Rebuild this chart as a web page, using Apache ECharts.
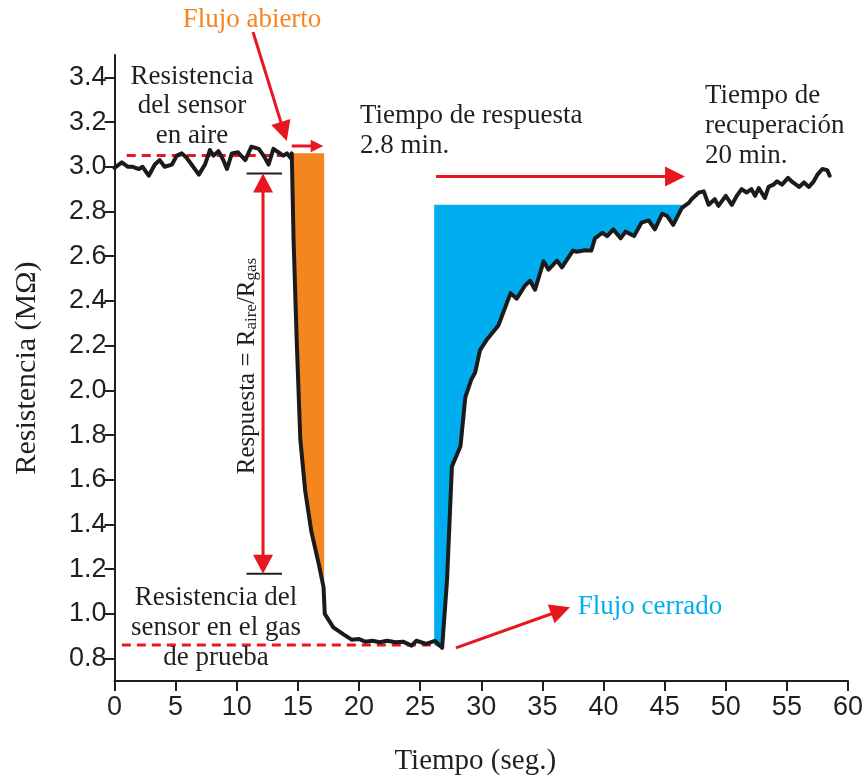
<!DOCTYPE html>
<html>
<head>
<meta charset="utf-8">
<script src="https://cdn.jsdelivr.net/npm/echarts@6.0.0/dist/echarts.min.js"></script>
<style>
  html, body { margin: 0; padding: 0; background: #ffffff; }
  #chart { width: 865px; height: 776px; }
</style>
</head>
<body>
<div id="chart"></div>
<script>
// Sensor resistance over time (MΩ vs seconds)
var timeSec = [
  0, 0.6, 1.1, 1.5, 2.0, 2.3, 2.8, 3.3, 3.7, 4.1,
  4.7, 5.1, 5.5, 5.9, 6.3, 6.9, 7.4, 7.8, 8.1, 8.5,
  8.9, 9.2, 9.6, 10.1, 10.7, 11.2, 11.8, 12.2, 12.6, 13.0,
  13.4, 13.8, 14.1, 14.4,
  14.5, 14.65, 14.9, 15.2, 15.6, 16.1, 16.7, 17.1, 17.2, 17.9, 18.7, 19.4,
  20.0, 20.5, 21.1, 21.7, 22.3, 23.0, 23.6, 24.3, 24.7, 25.5, 26.2, 26.8,
  27.2, 27.6, 28.3, 28.7, 29.2, 29.5, 29.9, 30.5, 31.4, 32.4,
  32.9, 33.6, 34.0, 34.4, 35.1, 35.5, 36.2, 36.6, 37.5, 37.8,
  38.5, 39.0, 39.3, 39.9, 40.3, 40.8, 41.4, 41.8, 42.5, 43.1,
  43.7, 44.2, 44.8, 45.2, 45.7, 46.4,
  47.0, 47.2, 47.8, 48.2, 48.6, 49.1, 49.4, 50.0, 50.5, 50.9,
  51.3, 51.7, 52.1, 52.4, 52.7, 53.2, 53.5, 53.9, 54.2, 54.6,
  55.1, 55.5, 56.0, 56.4, 56.8, 57.2, 57.5, 57.9, 58.3, 58.5
];
var resistance = [
  2.995, 3.02, 3.0, 3.0, 2.99, 3.0, 2.96, 3.01, 3.03, 3.0,
  3.01, 3.05, 3.06, 3.04, 3.01, 2.965, 3.01, 3.075, 3.05, 3.07,
  3.03, 2.99, 3.06, 3.065, 3.03, 3.09, 3.08, 3.05, 3.01, 3.08,
  3.065, 3.05, 3.06, 3.04,
  3.06, 2.67, 2.23, 1.78, 1.55, 1.37, 1.225, 1.12, 1.0, 0.94, 0.91, 0.885,
  0.888, 0.876, 0.88, 0.873, 0.88, 0.873, 0.876, 0.858, 0.88, 0.866, 0.88, 0.848,
  1.15, 1.66, 1.75, 1.97, 2.05, 2.08, 2.18, 2.23, 2.29, 2.435,
  2.41, 2.47, 2.49, 2.45, 2.577, 2.54, 2.58, 2.55, 2.625, 2.62,
  2.627, 2.625, 2.68, 2.705, 2.69, 2.72, 2.68, 2.71, 2.69, 2.75,
  2.76, 2.72, 2.79, 2.78, 2.74, 2.815,
  2.84, 2.855, 2.885, 2.89, 2.83, 2.855, 2.825, 2.87, 2.83, 2.87,
  2.9, 2.885, 2.9, 2.87, 2.905, 2.86, 2.91, 2.92, 2.935, 2.92,
  2.95, 2.93, 2.91, 2.93, 2.91, 2.935, 2.965, 2.99, 2.985, 2.96
];

// Axis ticks
var xTicks = [0, 5, 10, 15, 20, 25, 30, 35, 40, 45, 50, 55, 60];
var yTicks = [0.8, 1.0, 1.2, 1.4, 1.6, 1.8, 2.0, 2.2, 2.4, 2.6, 2.8, 3.0, 3.2, 3.4];

// Reference levels
var airLevel = 3.05;     // resistance in air
var gasLevel = 0.861;    // resistance in test gas
var airLevelSpan = [1.0, 14.4];
var gasLevelSpan = [0.6, 26.5];

// Response (gas on) and recovery (gas off) windows
var responseWindow = [14.5, 17.15];
var responseTop = 3.06;
var recoveryWindow = [26.15, 46.6];
var recoveryTop = 2.83;
var recoveryFloor = 0.86;

// Response magnitude bracket
var bracketX = 12.15;
var bracketSpan = [10.8, 13.7];
var bracketLevels = [2.97, 1.18];

// Pointer arrows: [x1, y1, x2, y2]
var arrows = [
  [11.33, 3.603, 14.09, 3.115],
  [14.5, 3.093, 17.08, 3.093],
  [26.3, 2.957, 46.67, 2.957],
  [27.93, 0.848, 37.26, 1.03]
];

var curve = timeSec.map(function (t, i) { return [t, resistance[i]]; });

function curveBetween(a, b) {
  return curve.filter(function (p) { return p[0] >= a && p[0] <= b; });
}

// Orange: between falling curve and end of gas-on window
var responsePoly = [[responseWindow[0], responseTop], [responseWindow[1], responseTop]];
var fallPts = curveBetween(responseWindow[0], responseWindow[1]);
responsePoly.push([responseWindow[1], fallPts[fallPts.length - 1][1]]);
for (var i = fallPts.length - 1; i >= 0; i--) responsePoly.push(fallPts[i]);

// Blue: between rising curve and recovery level
var risePts = curveBetween(26.7, recoveryWindow[1]);
var recoveryPoly = [[recoveryWindow[0], recoveryTop], [recoveryWindow[1], recoveryTop]];
for (var j = risePts.length - 1; j >= 0; j--) recoveryPoly.push(risePts[j]);
recoveryPoly.push([recoveryWindow[0], recoveryFloor]);

var RED = '#e8171f';
var INK = '#231f20';
var SERIF = '"Liberation Serif", "Times New Roman", serif';
var SANS = '"Liberation Sans", Arial, sans-serif';

function polygonSeries(points, color) {
  return {
    type: 'custom',
    coordinateSystem: 'cartesian2d',
    silent: true,
    clip: false,
    z: 1,
    data: [points[0]],
    renderItem: function (params, api) {
      return {
        type: 'polygon',
        shape: { points: points.map(function (p) { return api.coord(p); }) },
        style: { fill: color }
      };
    }
  };
}

function arrowHead(tip, from, len, half) {
  var dx = tip[0] - from[0], dy = tip[1] - from[1];
  var d = Math.sqrt(dx * dx + dy * dy) || 1;
  var ux = dx / d, uy = dy / d;
  var bx = tip[0] - ux * len, by = tip[1] - uy * len;
  return {
    type: 'polygon',
    shape: { points: [tip, [bx - uy * half, by + ux * half], [bx + uy * half, by - ux * half]] },
    style: { fill: RED }
  };
}

function shaftEnd(tip, from, len) {
  var dx = tip[0] - from[0], dy = tip[1] - from[1];
  var d = Math.sqrt(dx * dx + dy * dy) || 1;
  return [tip[0] - dx / d * len, tip[1] - dy / d * len];
}

var chart = echarts.init(document.getElementById('chart'), null, { renderer: 'canvas' });

var option = {
  backgroundColor: '#ffffff',
  animation: false,
  grid: { left: 114.5, right: 17, top: 55, bottom: 95, containLabel: false, outerBoundsMode: 'none' },
  xAxis: {
    type: 'value',
    min: 0, max: 60, interval: 5,
    name: 'Tiempo (seg.)',
    nameLocation: 'middle',
    nameGap: 66,
    nameTextStyle: { fontFamily: SERIF, fontSize: 29, color: INK, padding: [0, 12, 0, 0] },
    axisLine: { show: true, onZero: false, lineStyle: { color: INK, width: 2 } },
    axisTick: { show: true, length: 10, lineStyle: { color: INK, width: 2 }, customValues: xTicks },
    axisLabel: { fontFamily: SANS, fontSize: 27, color: INK, margin: 13, customValues: xTicks },
    splitLine: { show: false }
  },
  yAxis: {
    type: 'value',
    min: 0.7, max: 3.5,
    name: 'Resistencia (MΩ)',
    nameLocation: 'middle',
    nameGap: 72,
    nameTextStyle: { fontFamily: SERIF, fontSize: 30, color: INK },
    axisLine: { show: true, onZero: false, lineStyle: { color: INK, width: 2 } },
    axisTick: { show: true, length: 10, lineStyle: { color: INK, width: 2 }, customValues: yTicks },
    axisLabel: {
      fontFamily: SANS, fontSize: 27, color: INK, margin: 8,
      customValues: yTicks,
      formatter: function (v) { return Number(v).toFixed(1); }
    },
    splitLine: { show: false }
  },
  series: [
    polygonSeries(responsePoly, '#f4861f'),
    polygonSeries(recoveryPoly, '#00aeef'),
    {
      type: 'line', silent: true, symbol: 'none', z: 2,
      data: [[airLevelSpan[0], airLevel], [airLevelSpan[1], airLevel]],
      lineStyle: { color: RED, width: 3, type: [9, 6] }
    },
    {
      type: 'line', silent: true, symbol: 'none', z: 2,
      data: [[gasLevelSpan[0], gasLevel], [gasLevelSpan[1], gasLevel]],
      lineStyle: { color: RED, width: 3, type: [9, 6] }
    },
    {
      type: 'line', silent: true, symbol: 'none', z: 2,
      data: [[bracketSpan[0], bracketLevels[0]], [bracketSpan[1], bracketLevels[0]]],
      lineStyle: { color: INK, width: 2 }
    },
    {
      type: 'line', silent: true, symbol: 'none', z: 2,
      data: [[bracketSpan[0], bracketLevels[1]], [bracketSpan[1], bracketLevels[1]]],
      lineStyle: { color: INK, width: 2 }
    },
    {
      // double-headed response bracket
      type: 'custom', coordinateSystem: 'cartesian2d', silent: true, clip: false, z: 3,
      data: [[bracketX, bracketLevels[0], bracketX, bracketLevels[1]]],
      encode: { x: [0, 2], y: [1, 3] },
      renderItem: function (params, api) {
        var a = api.coord([api.value(0), api.value(1)]);
        var b = api.coord([api.value(2), api.value(3)]);
        var L = 19, H = 10;
        var s1 = shaftEnd(a, b, L - 2), s2 = shaftEnd(b, a, L - 2);
        return {
          type: 'group',
          children: [
            { type: 'line', shape: { x1: s1[0], y1: s1[1], x2: s2[0], y2: s2[1] }, style: { stroke: RED, lineWidth: 3 } },
            arrowHead(a, b, L, H),
            arrowHead(b, a, L, H)
          ]
        };
      }
    },
    {
      type: 'custom', coordinateSystem: 'cartesian2d', silent: true, clip: false, z: 3,
      data: arrows,
      encode: { x: [0, 2], y: [1, 3] },
      renderItem: function (params, api) {
        var a = api.coord([api.value(0), api.value(1)]);
        var b = api.coord([api.value(2), api.value(3)]);
        var len = Math.sqrt(Math.pow(b[0] - a[0], 2) + Math.pow(b[1] - a[1], 2));
        var L = Math.min(20, len * 0.4), H = L * 0.5;
        var s = shaftEnd(b, a, L - 2);
        return {
          type: 'group',
          children: [
            { type: 'line', shape: { x1: a[0], y1: a[1], x2: s[0], y2: s[1] }, style: { stroke: RED, lineWidth: 3 } },
            arrowHead(b, a, L, H)
          ]
        };
      }
    },
    {
      type: 'line', silent: true, symbol: 'none', z: 5,
      data: curve,
      lineStyle: { color: '#1b1b1b', width: 4, join: 'round', cap: 'round' }
    }
  ],
  graphic: [
    { type: 'text', x: 252, y: 20, z: 10, style: { text: 'Flujo abierto', fill: '#f7841f', font: '27px ' + SERIF, align: 'center', verticalAlign: 'middle' } },
    { type: 'text', x: 650, y: 607, z: 10, style: { text: 'Flujo cerrado', fill: '#00aeef', font: '27px ' + SERIF, align: 'center', verticalAlign: 'middle' } },
    { type: 'text', x: 192, y: 106, z: 10, style: { text: 'Resistencia\ndel sensor\nen aire', fill: INK, font: '27px ' + SERIF, lineHeight: 29.5, align: 'center', verticalAlign: 'middle' } },
    { type: 'text', x: 360, y: 131, z: 10, style: { text: 'Tiempo de respuesta\n2.8 min.', fill: INK, font: '27px ' + SERIF, lineHeight: 30, align: 'left', verticalAlign: 'middle' } },
    { type: 'text', x: 705, y: 126, z: 10, style: { text: 'Tiempo de\nrecuperación\n20 min.', fill: INK, font: '27px ' + SERIF, lineHeight: 30, align: 'left', verticalAlign: 'middle' } },
    { type: 'text', x: 216, y: 628, z: 10, style: { text: 'Resistencia del\nsensor en el gas\nde prueba', fill: INK, font: '27px ' + SERIF, lineHeight: 30, align: 'center', verticalAlign: 'middle' } },
    {
      type: 'text', x: 247, y: 366, rotation: Math.PI / 2, z: 10,
      style: {
        text: 'Respuesta = R{s|aire}/R{s|gas}',
        fill: INK, font: '25px ' + SERIF, align: 'center', verticalAlign: 'middle',
        rich: {
          s: { fontFamily: SERIF, fontSize: 17, fill: INK, padding: [9, 0, 0, 0] }
        }
      }
    }
  ]
};

chart.setOption(option);
</script>
</body>
</html>
